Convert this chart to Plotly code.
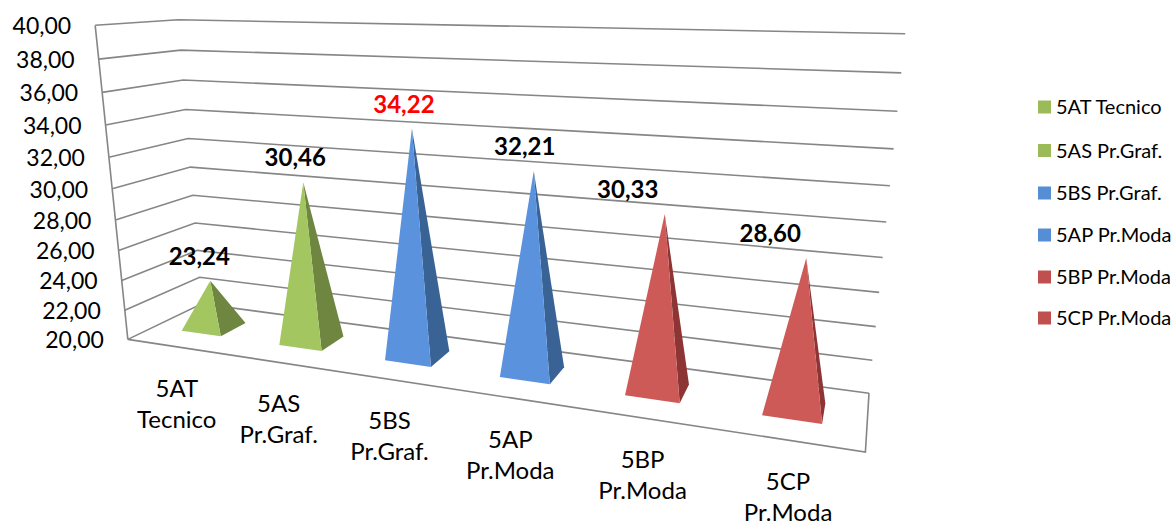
import numpy as np
import plotly.graph_objects as go

# ---- data ----
CATEGORIES = ["5AT Tecnico", "5AS Pr.Graf.", "5BS Pr.Graf.", "5AP Pr.Moda", "5BP Pr.Moda", "5CP Pr.Moda"]
VALUES = [23.24, 30.46, 34.22, 32.21, 30.33, 28.60]
TICKS = [20, 22, 24, 26, 28, 30, 32, 34, 36, 38, 40]

# ---- styles ----
FRONT = ["#A3C660", "#A3C660", "#5A92DE", "#5A92DE", "#CE5A58", "#CE5A58"]
SIDE = ["#6E8640", "#6E8640", "#3A6395", "#3A6395", "#8C3534", "#8C3534"]
LEGEND = ["#9BBB59", "#9BBB59", "#558ED5", "#558ED5", "#C0504D", "#C0504D"]
LABEL_COLOR = ["black", "black", "red", "black", "black", "black"]
LABEL_DX = [-11, -8, -8, -9, -37, -36]
GRID = "#868686"
FONT = "Lato"
WIDTH, HEIGHT = 1176, 523

# camera: (category, depth, value-20) -> page axes
CAMERA = np.array([[89.044732, 95.470653, -2.009814, 127.837101],
                   [1.074598, -3.049077, -15.802087, 339.35167],
                   [-0.039151, 0.106671, -0.003963, 1.0]])
HALF_W, DEPTH_MID, HALF_D = 0.205, 0.515, 0.18


def proj(cat, depth, value):
    q = CAMERA @ np.array([cat, depth, value - TICKS[0], 1.0])
    return q[0] / q[2], q[1] / q[2]


def poly(points, color):
    xy = [proj(*p) for p in points]
    return go.Scatter(x=[p[0] for p in xy], y=[p[1] for p in xy], mode="none", fill="toself",
                      fillcolor=color, hoverinfo="skip", showlegend=False)


def path(points, width=1.6):
    xy = [proj(*p) for p in points]
    return go.Scatter(x=[p[0] for p in xy], y=[p[1] for p in xy], mode="lines",
                      line=dict(color=GRID, width=width), hoverinfo="skip", showlegend=False)


def text(xs, ys, labels, size, color="black", bold=False, pos="middle center"):
    return go.Scatter(x=xs, y=ys, mode="text", text=labels, textposition=pos, hoverinfo="skip",
                      showlegend=False, cliponaxis=False,
                      textfont=dict(family=FONT, size=size, color=color, weight=700 if bold else 400))


fig = go.Figure()
n = len(CATEGORIES)
zero, top = TICKS[0], TICKS[-1]

# walls and floor
for t in TICKS:
    fig.add_trace(path([(0, 0, t), (0, 1, t), (n, 1, t)]))
fig.add_trace(path([(0, 0, zero), (0, 0, top)]))
fig.add_trace(path([(0, 0, zero), (n, 0, zero), (n, 1, zero)]))

# pyramids
for i, v in enumerate(VALUES):
    c = i + 0.5
    fl = (c - HALF_W, DEPTH_MID - HALF_D, zero)
    fr = (c + HALF_W, DEPTH_MID - HALF_D, zero)
    br = (c + HALF_W, DEPTH_MID + HALF_D, zero)
    apex = (c, DEPTH_MID, v)
    fig.add_trace(poly([fr, br, apex, fr], SIDE[i]))
    fig.add_trace(poly([fl, fr, apex, fl], FRONT[i]))
    ax, ay = proj(*apex)
    fig.add_trace(text([ax + LABEL_DX[i]], [ay - 22], [f"{v:.2f}".replace(".", ",")], 24,
                       color=LABEL_COLOR[i], bold=True))

# value ticks
tick_xy = [proj(0, 0, t) for t in TICKS]
fig.add_trace(text([p[0] - 24 for p in tick_xy], [p[1] + 3 for p in tick_xy],
                   [f"{t:.2f}".replace(".", ",") for t in TICKS], 23, pos="middle left"))

# category labels (two lines)
base_xy = [proj(i + 0.5, 0, zero) for i in range(n)]
fig.add_trace(text([p[0] + 1 for p in base_xy], [p[1] + 44 for p in base_xy],
                   [c.split(" ")[0] for c in CATEGORIES], 24))
fig.add_trace(text([p[0] + 1 for p in base_xy], [p[1] + 75 for p in base_xy],
                   [c.split(" ")[1] for c in CATEGORIES], 24))

# legend
leg_y = [107, 150.5, 193, 235, 277, 318]
fig.add_trace(go.Scatter(x=[1044.5] * n, y=leg_y, mode="markers", hoverinfo="skip", showlegend=False,
                         cliponaxis=False, marker=dict(symbol="square", size=13, color=LEGEND)))
fig.add_trace(text([1056] * n, [y + 2 for y in leg_y], CATEGORIES, 20, pos="middle right"))

fig.update_layout(width=WIDTH, height=HEIGHT,
                  margin=dict(l=0, r=0, t=0, b=0), showlegend=False,
                  plot_bgcolor="white", paper_bgcolor="white",
                  xaxis=dict(range=[0, WIDTH], visible=False, fixedrange=True),
                  yaxis=dict(range=[HEIGHT, 0], visible=False, fixedrange=True))
fig.write_html("out.html", config=dict(displayModeBar=False),
               post_script="document.body.style.margin='0';document.documentElement.style.overflow='hidden';")
